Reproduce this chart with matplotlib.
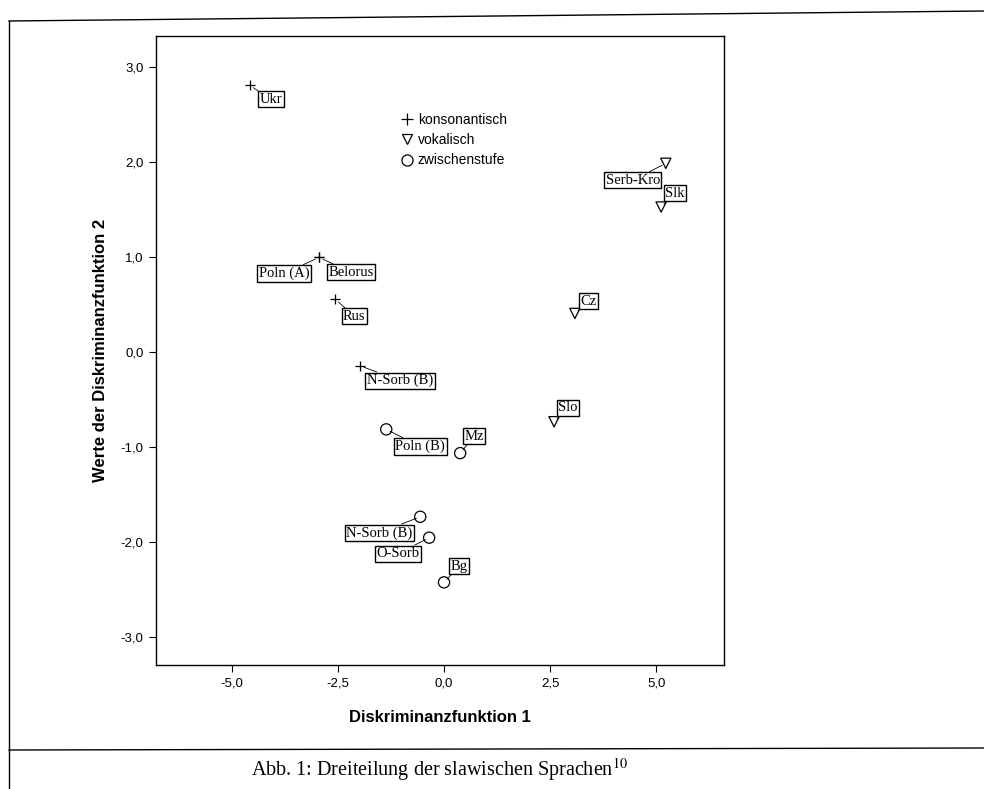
import matplotlib
matplotlib.use("Agg")
import matplotlib.pyplot as plt
from matplotlib.ticker import FuncFormatter
from matplotlib.lines import Line2D

# ---- data ----
names = ["Ukr", "Poln (A)", "Belorus", "Rus", "N-Sorb (B)",
         "Serb-Kro", "Slk", "Cz", "Slo",
         "Poln (B)", "Mz", "N-Sorb (B)", "O-Sorb", "Bg"]
func1 = [-4.57, -2.94, -2.94, -2.56, -1.98,
         5.22, 5.11, 3.08, 2.59,
         -1.36, 0.38, -0.56, -0.35, 0.00]
func2 = [2.81, 1.00, 1.00, 0.56, -0.14,
         1.99, 1.53, 0.41, -0.73,
         -0.81, -1.06, -1.73, -1.95, -2.42]
groups = ["konsonantisch"] * 5 + ["vokalisch"] * 4 + ["zwischenstufe"] * 5
group_order = ["konsonantisch", "vokalisch", "zwischenstufe"]
x_ticks = [-5.0, -2.5, 0.0, 2.5, 5.0]
y_ticks = [-3.0, -2.0, -1.0, 0.0, 1.0, 2.0, 3.0]

# ---- layout / style ----
label_offsets = [(21, -14), (-35, -16), (32, -15), (19, -17), (40, -15),
                 (-33, -17), (14, 14), (14, 12), (14, 14),
                 (34, -17), (14, 17), (-41, -16), (-31, -16), (15, 16)]
marker_style = {
    "konsonantisch": dict(marker="+", s=60, c="black", linewidths=0.9),
    "vokalisch": dict(marker="v", s=55, facecolors="none", edgecolors="black", linewidths=0.9),
    "zwischenstufe": dict(marker="o", s=65, facecolors="none", edgecolors="black", linewidths=0.9),
}

W, H, DPI = 984, 789, 100
fig = plt.figure(figsize=(W / DPI, H / DPI), dpi=DPI)
L, T, R, B = 156, 36, 724, 665
ax = fig.add_axes([L / W, 1 - B / H, (R - L) / W, (B - T) / H])

for g in group_order:
    xs = [x for x, gg in zip(func1, groups) if gg == g]
    ys = [y for y, gg in zip(func2, groups) if gg == g]
    ax.scatter(xs, ys, zorder=3, **marker_style[g])

for n, x, y, off in zip(names, func1, func2, label_offsets):
    ax.annotate(n, (x, y), xytext=off, textcoords="offset pixels",
                ha="center", va="center", family="Liberation Serif", fontsize=10.5,
                bbox=dict(boxstyle="square,pad=0.1", fc="white", ec="black", lw=1.0),
                arrowprops=dict(arrowstyle="-", lw=0.6, color="black",
                                shrinkA=0, shrinkB=3),
                zorder=4)

ax.set_xlim(-6.78, 6.59)
ax.set_ylim(-3.29, 3.33)
ax.set_xticks(x_ticks)
ax.set_yticks(y_ticks)
fmt = FuncFormatter(lambda v, p: f"{v:.1f}".replace(".", ","))
ax.xaxis.set_major_formatter(fmt)
ax.yaxis.set_major_formatter(fmt)
ax.tick_params(direction="out", length=5, width=0.8, labelsize=9.5, pad=4)
for t in ax.get_xticklabels() + ax.get_yticklabels():
    t.set_family("Liberation Sans")
for s in ax.spines.values():
    s.set_linewidth(1.0)

ax.set_xlabel("Diskriminanzfunktion 1", family="Liberation Sans", fontsize=12,
              fontweight="bold", labelpad=15)
ax.set_ylabel("Werte der Diskriminanzfunktion 2", family="Liberation Sans", fontsize=12,
              fontweight="bold", labelpad=9)

handles = [Line2D([], [], ls="none", marker="+", color="black", ms=8, mew=0.9),
           Line2D([], [], ls="none", marker="v", mfc="none", mec="black", ms=7, mew=0.9),
           Line2D([], [], ls="none", marker="o", mfc="none", mec="black", ms=8, mew=0.9)]
leg = ax.legend(handles, group_order, loc="upper left",
                bbox_to_anchor=((401 - L) / (R - L), (B - 113) / (B - T)),
                frameon=False, handlelength=0.8, handletextpad=0.4,
                labelspacing=0.45, borderpad=0, borderaxespad=0,
                prop=dict(family="Liberation Sans", size=10))

# outer frame of the scanned figure
fig.add_artist(Line2D([9 / W, 9 / W], [1 - 21 / H, 0], color="black", lw=1.0,
                      transform=fig.transFigure))
fig.add_artist(Line2D([9 / W, 1.0], [1 - 21 / H, 1 - 11 / H], color="black", lw=1.0,
                      transform=fig.transFigure))
fig.add_artist(Line2D([9 / W, 1.0], [1 - 750 / H, 1 - 748 / H], color="black", lw=1.0,
                      transform=fig.transFigure))

plt.rcParams["mathtext.fontset"] = "stix"
fig.text(440 / W, 1 - 770 / H, r"Abb. 1: Dreiteilung der slawischen Sprachen$^{10}$",
         ha="center", va="center", family="Liberation Serif", fontsize=14.5)

fig.savefig("out.png", dpi=DPI)
